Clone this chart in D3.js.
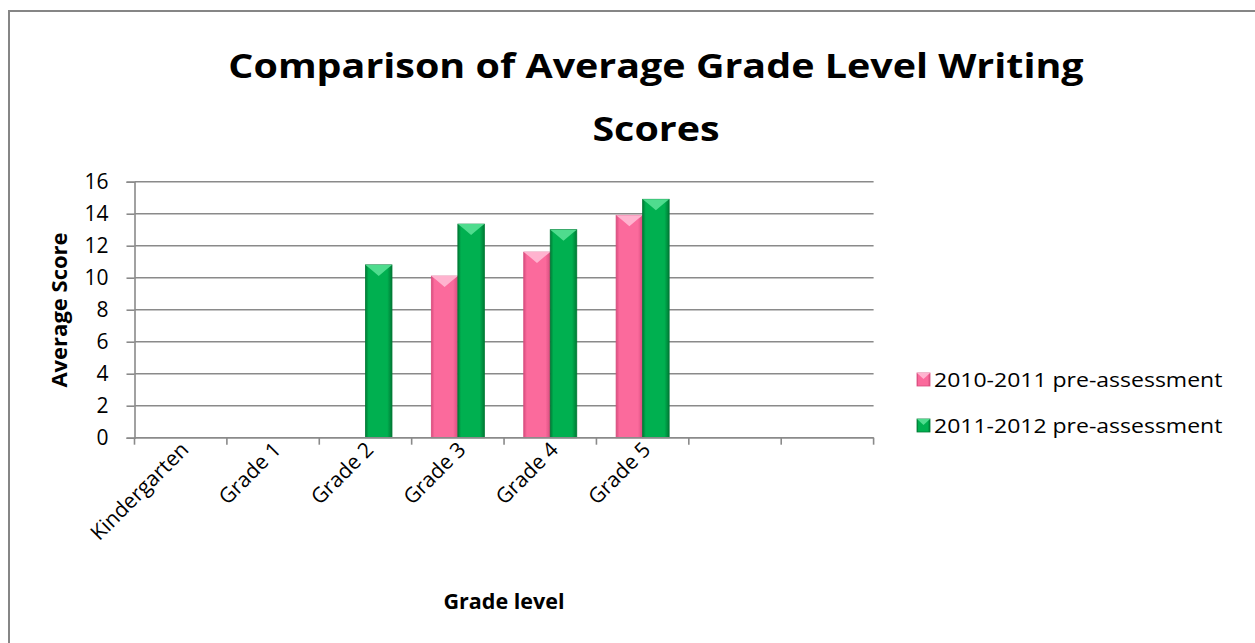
<!DOCTYPE html>
<html>
<head>
<meta charset="utf-8">
<script src="https://cdn.jsdelivr.net/npm/d3@7"></script>
<style>
  body { margin: 0; background: #fff; }
  svg text { font-family: "Open Sans", sans-serif; fill: #000; }
</style>
</head>
<body>
<svg id="chart"></svg>
<script>
// data
var categories = ["Kindergarten", "Grade 1", "Grade 2", "Grade 3", "Grade 4", "Grade 5", "", ""]
var seriesNames = ["2010-2011 pre-assessment", "2011-2012 pre-assessment"]
var scores2010 = [null, null, null, 10.1, 11.6, 13.9, null, null]
var scores2011 = [null, null, 10.8, 13.35, 13.0, 14.9, null, null]
var yTicks = [0, 2, 4, 6, 8, 10, 12, 14, 16]

var width = 1255, height = 643
var plot = {left: 134.5, right: 873.6, top: 181.7, bottom: 437.7}

var palette = [
  {main: "#fb6a9c", edge: "#d84d7e", light: "#ffb3cf"},
  {main: "#00b050", edge: "#007a35", light: "#4fdc8e"}
]

var svg = d3.select("#chart").attr("width", width).attr("height", height)

// outer chart border (only top and left visible)
svg.append("path")
  .attr("d", `M9,${height} L9,11 L${width},11`)
  .attr("fill", "none").attr("stroke", "#868686").attr("stroke-width", 2)

var defs = svg.append("defs")
palette.forEach((p, i) => {
  var g = defs.append("linearGradient").attr("id", "bar" + i)
    .attr("x1", 0).attr("x2", 1).attr("y1", 0).attr("y2", 0)
  g.append("stop").attr("offset", "0%").attr("stop-color", p.edge)
  g.append("stop").attr("offset", "12%").attr("stop-color", p.main)
  g.append("stop").attr("offset", "82%").attr("stop-color", p.main)
  g.append("stop").attr("offset", "100%").attr("stop-color", p.edge)
})

var x0 = d3.scaleBand()
  .domain(d3.range(categories.length))
  .range([plot.left, plot.right])
  .paddingInner(0.426)
  .paddingOuter(0.213)

var x1 = d3.scaleBand().domain([0, 1]).range([0, x0.bandwidth()])

var y = d3.scaleLinear().domain([0, 16]).range([plot.bottom, plot.top])

// gridlines
svg.append("g")
  .selectAll("line")
  .data(yTicks)
  .join("line")
  .attr("x1", plot.left).attr("x2", plot.right)
  .attr("y1", d => y(d)).attr("y2", d => y(d))
  .attr("stroke", "#8a8a8a").attr("stroke-width", 1.6)

// y axis
var yAxis = svg.append("g")
  .attr("transform", `translate(${plot.left},0)`)
  .call(d3.axisLeft(y).tickValues(yTicks).tickSize(8).tickPadding(18))
yAxis.select(".domain").attr("stroke", "#8a8a8a").attr("stroke-width", 1.6)
yAxis.selectAll(".tick line").attr("stroke", "#8a8a8a").attr("stroke-width", 1.6)
yAxis.selectAll(".tick text").style("font-size", "21px").attr("font-family", null)

// bars
var step = x0.step()
var rows = []
categories.forEach((c, i) => {
  [scores2010[i], scores2011[i]].forEach((v, s) => {
    if (v != null) rows.push({cat: i, series: s, value: v})
  })
})

var bars = svg.append("g").selectAll("g").data(rows).join("g")
  .attr("transform", d => `translate(${x0(d.cat) + x1(d.series)},0)`)

bars.append("rect")
  .attr("x", 0).attr("width", x1.bandwidth())
  .attr("y", d => y(d.value)).attr("height", d => y(0) - y(d.value))
  .attr("fill", d => `url(#bar${d.series})`)
  .attr("stroke", d => palette[d.series].edge).attr("stroke-width", 0.8)

// bevel on top of each bar
bars.append("path")
  .attr("d", d => {
    var w = x1.bandwidth(), t = y(d.value)
    return `M0,${t} L${w},${t} L${w - 5},${t + 4} L${w / 2},${t + 11} L5,${t + 4} Z`
  })
  .attr("fill", d => palette[d.series].light)

// x axis
var xAxis = svg.append("g")
svg.append("line")
  .attr("x1", plot.left).attr("x2", plot.right)
  .attr("y1", plot.bottom).attr("y2", plot.bottom)
  .attr("stroke", "#8a8a8a").attr("stroke-width", 1.6)
xAxis.selectAll("line")
  .data(d3.range(categories.length + 1))
  .join("line")
  .attr("x1", d => plot.left + d * step).attr("x2", d => plot.left + d * step)
  .attr("y1", plot.bottom).attr("y2", plot.bottom + 7)
  .attr("stroke", "#8a8a8a").attr("stroke-width", 1.6)

xAxis.selectAll("text")
  .data(categories)
  .join("text")
  .attr("transform", (d, i) => `translate(${x0(i) + x0.bandwidth() / 2 + 4},${plot.bottom + 8}) rotate(-45)`)
  .attr("text-anchor", "end")
  .attr("dy", "0.35em")
  .style("font-size", "21px")
  .text(d => d)

// titles
var title = svg.append("text")
  .attr("transform", "translate(656,0) scale(1.16,1)")
  .attr("text-anchor", "middle")
  .style("font-size", "34px").style("font-weight", "bold")
title.append("tspan").attr("x", 0).attr("y", 78).text("Comparison of Average Grade Level Writing")
title.append("tspan").attr("x", 0).attr("y", 141).text("Scores")

svg.append("text")
  .attr("transform", "translate(67,310) rotate(-90)")
  .attr("text-anchor", "middle")
  .style("font-size", "22px").style("font-weight", "bold")
  .text("Average Score")

svg.append("text")
  .attr("x", 504).attr("y", 609).attr("text-anchor", "middle")
  .style("font-size", "21.5px").style("font-weight", "bold")
  .text("Grade level")

// legend
var legend = svg.append("g").selectAll("g").data(seriesNames).join("g")
  .attr("transform", (d, i) => `translate(917,${373 + i * 46})`)
legend.append("rect")
  .attr("width", 13).attr("height", 13)
  .attr("fill", (d, i) => `url(#bar${i})`)
  .attr("stroke", (d, i) => palette[i].edge).attr("stroke-width", 0.8)
legend.append("path")
  .attr("d", "M0,0 L13,0 L6.5,6 Z")
  .attr("fill", (d, i) => palette[i].light)
legend.append("text")
  .attr("transform", "translate(17,14) scale(1.15,1)")
  .style("font-size", "20px")
  .text(d => d)
</script>
</body>
</html>
